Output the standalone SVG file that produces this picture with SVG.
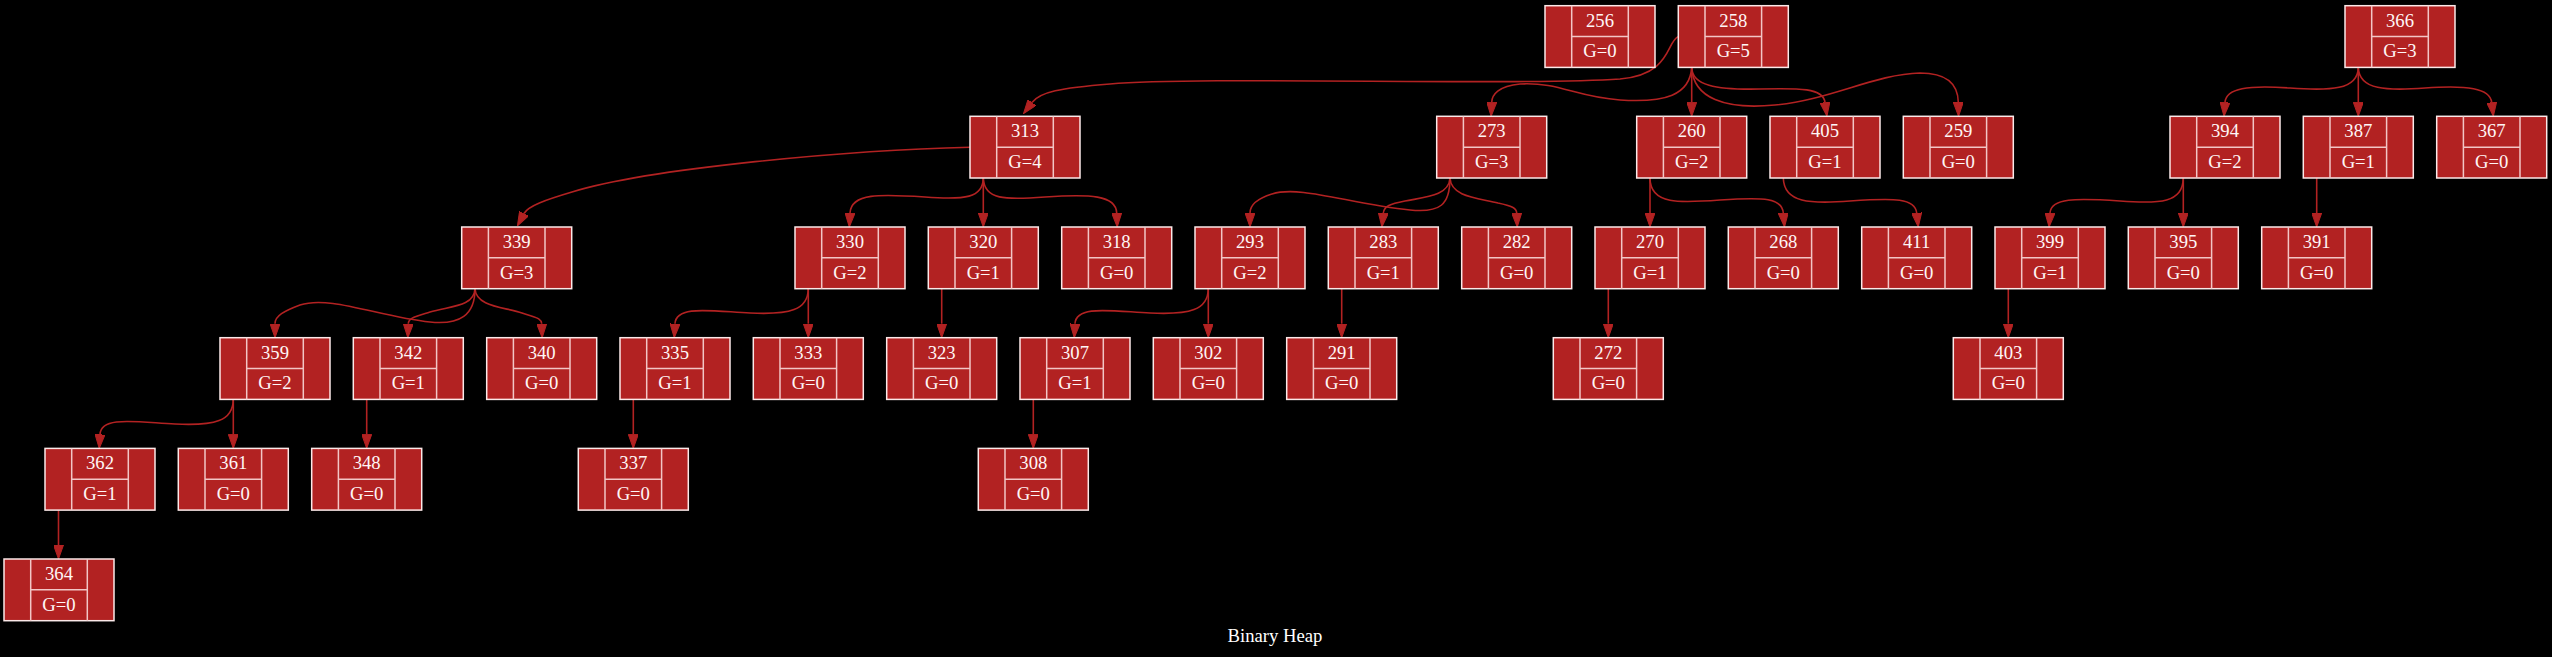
<svg xmlns="http://www.w3.org/2000/svg" width="2552" height="657" viewBox="0 0 2552 657">
<style>
.n rect{fill:#b22222;stroke:#fbe9e9;stroke-width:1.5}
.n path{fill:none;stroke:#f2c6c6;stroke-width:1.5}
.n text{font-family:"Liberation Serif",serif;font-size:18.67px;fill:#fff6f6;text-anchor:middle}
#edges path{fill:none;stroke:#b22222;stroke-width:1.6;marker-end:url(#ah)}
.t{font-family:"Liberation Serif",serif;font-size:18.67px;fill:#ffffff;text-anchor:middle}
</style>
<defs>
<marker id="ah" viewBox="0 0 14 10" refX="0" refY="5" markerWidth="14" markerHeight="10" markerUnits="userSpaceOnUse" orient="auto">
<path d="M0,0 L14,5 L0,10 z" fill="#b22222" stroke="#b22222" stroke-width="1"/>
</marker>
</defs>
<rect width="2552" height="657" fill="#000"/>
<g id="edges">
<path d="M1678.3,36.5 C1666,42 1672,74 1620,79 C1520,86 1200,76 1110,84 C1060,88 1040,92 1032,102.5"/>
<path d="M1691.7,67.4 C1690,95 1665,103 1620,100 C1575,97 1560,82 1520,84 C1498,86 1492,95 1491.7,102.3"/>
<path d="M1691.7,67.4 V102.3"/>
<path d="M1691.7,67.4 C1692,85 1715,90 1760,89 C1800,88 1823,88 1825,102.3"/>
<path d="M1691.7,67.4 C1693,98 1725,110 1775,105 C1830,100 1875,74 1920,73 C1948,73 1958,85 1958.3,102.3"/>
<path d="M2358.3,67.4 C2358,90 2330,91 2290,88 C2248,85 2226,88 2225,102.3"/>
<path d="M2358.3,67.4 V102.3"/>
<path d="M2358.3,67.4 C2359,90 2387,91 2425,88 C2467,85 2490,88 2491.7,102.3"/>
<path d="M970,147.2 C850,150 650,168 572,192 C545,200 528,206 524,213.5"/>
<path d="M983.3,178 C983,198 965,200 925,197 C880,194 851,193 850,213"/>
<path d="M983.3,178 V213"/>
<path d="M983.3,178 C984,200 1005,200 1045,197 C1090,194 1116,195 1116.7,213"/>
<path d="M1450,178 C1450,205 1440,213 1410,210 C1350,204 1300,185 1272,194 C1256,199 1250,205 1250,213"/>
<path d="M1450,178 C1449,196 1425,197 1405,201 C1390,204 1384,206 1383.3,213"/>
<path d="M1450,178 C1451,197 1478,198 1498,203 C1512,206 1516.5,208 1516.7,213"/>
<path d="M1650,178 V213"/>
<path d="M1650,178 C1650,205 1680,203 1720,200 C1765,197 1782,198 1783.3,213"/>
<path d="M1783.3,178 C1784,203 1810,204 1850,201 C1895,198 1915,198 1916.7,213"/>
<path d="M2183.3,178 C2183,203 2160,204 2120,201 C2075,198 2051,198 2050,213"/>
<path d="M2183.3,178 V213"/>
<path d="M2316.7,178 V213"/>
<path d="M475,288.7 C475,315 460,325 430,322 C380,317 330,295 300,305 C284,311 275,316 275,323.7"/>
<path d="M475,288.7 C474,307 450,306 430,312 C414,317 408.5,318 408.3,323.7"/>
<path d="M475,288.7 C476,307 505,307 522,313 C536,318 541.5,318 541.7,323.7"/>
<path d="M808.3,288.7 C808,310 790,315 750,313 C710,311 676,305 675,323.7"/>
<path d="M808.3,288.7 V323.7"/>
<path d="M941.7,288.7 V323.7"/>
<path d="M1208.3,288.7 C1208,310 1190,315 1150,313 C1110,311 1076,305 1075,323.7"/>
<path d="M1208.3,288.7 V323.7"/>
<path d="M1341.7,288.7 V323.7"/>
<path d="M1608.3,288.7 V323.7"/>
<path d="M2008.3,288.7 V323.7"/>
<path d="M233.3,399.4 C233,421 215,426 175,424 C135,422 101,416 100,434.4"/>
<path d="M233.3,399.4 V434.4"/>
<path d="M366.7,399.4 V434.4"/>
<path d="M633.3,399.4 V434.4"/>
<path d="M1033.3,399.4 V434.4"/>
<path d="M58.5,510.1 V545"/>
</g>
<g id="n256" class="n" transform="translate(1545,5.7)"><rect width="110" height="61.7"/><path d="M26.7,0V61.7M83.3,0V61.7M26.7,30.85H83.3"/><text x="55" y="21">256</text><text x="55" y="51.8">G=0</text></g>
<g id="n258" class="n" transform="translate(1678.3,5.7)"><rect width="110" height="61.7"/><path d="M26.7,0V61.7M83.3,0V61.7M26.7,30.85H83.3"/><text x="55" y="21">258</text><text x="55" y="51.8">G=5</text></g>
<g id="n366" class="n" transform="translate(2345,5.7)"><rect width="110" height="61.7"/><path d="M26.7,0V61.7M83.3,0V61.7M26.7,30.85H83.3"/><text x="55" y="21">366</text><text x="55" y="51.8">G=3</text></g>
<g id="n313" class="n" transform="translate(970,116.3)"><rect width="110" height="61.7"/><path d="M26.7,0V61.7M83.3,0V61.7M26.7,30.85H83.3"/><text x="55" y="21">313</text><text x="55" y="51.8">G=4</text></g>
<g id="n273" class="n" transform="translate(1436.7,116.3)"><rect width="110" height="61.7"/><path d="M26.7,0V61.7M83.3,0V61.7M26.7,30.85H83.3"/><text x="55" y="21">273</text><text x="55" y="51.8">G=3</text></g>
<g id="n260" class="n" transform="translate(1636.7,116.3)"><rect width="110" height="61.7"/><path d="M26.7,0V61.7M83.3,0V61.7M26.7,30.85H83.3"/><text x="55" y="21">260</text><text x="55" y="51.8">G=2</text></g>
<g id="n405" class="n" transform="translate(1770,116.3)"><rect width="110" height="61.7"/><path d="M26.7,0V61.7M83.3,0V61.7M26.7,30.85H83.3"/><text x="55" y="21">405</text><text x="55" y="51.8">G=1</text></g>
<g id="n259" class="n" transform="translate(1903.3,116.3)"><rect width="110" height="61.7"/><path d="M26.7,0V61.7M83.3,0V61.7M26.7,30.85H83.3"/><text x="55" y="21">259</text><text x="55" y="51.8">G=0</text></g>
<g id="n394" class="n" transform="translate(2170,116.3)"><rect width="110" height="61.7"/><path d="M26.7,0V61.7M83.3,0V61.7M26.7,30.85H83.3"/><text x="55" y="21">394</text><text x="55" y="51.8">G=2</text></g>
<g id="n387" class="n" transform="translate(2303.3,116.3)"><rect width="110" height="61.7"/><path d="M26.7,0V61.7M83.3,0V61.7M26.7,30.85H83.3"/><text x="55" y="21">387</text><text x="55" y="51.8">G=1</text></g>
<g id="n367" class="n" transform="translate(2436.7,116.3)"><rect width="110" height="61.7"/><path d="M26.7,0V61.7M83.3,0V61.7M26.7,30.85H83.3"/><text x="55" y="21">367</text><text x="55" y="51.8">G=0</text></g>
<g id="n339" class="n" transform="translate(461.7,227)"><rect width="110" height="61.7"/><path d="M26.7,0V61.7M83.3,0V61.7M26.7,30.85H83.3"/><text x="55" y="21">339</text><text x="55" y="51.8">G=3</text></g>
<g id="n330" class="n" transform="translate(795,227)"><rect width="110" height="61.7"/><path d="M26.7,0V61.7M83.3,0V61.7M26.7,30.85H83.3"/><text x="55" y="21">330</text><text x="55" y="51.8">G=2</text></g>
<g id="n320" class="n" transform="translate(928.3,227)"><rect width="110" height="61.7"/><path d="M26.7,0V61.7M83.3,0V61.7M26.7,30.85H83.3"/><text x="55" y="21">320</text><text x="55" y="51.8">G=1</text></g>
<g id="n318" class="n" transform="translate(1061.7,227)"><rect width="110" height="61.7"/><path d="M26.7,0V61.7M83.3,0V61.7M26.7,30.85H83.3"/><text x="55" y="21">318</text><text x="55" y="51.8">G=0</text></g>
<g id="n293" class="n" transform="translate(1195,227)"><rect width="110" height="61.7"/><path d="M26.7,0V61.7M83.3,0V61.7M26.7,30.85H83.3"/><text x="55" y="21">293</text><text x="55" y="51.8">G=2</text></g>
<g id="n283" class="n" transform="translate(1328.3,227)"><rect width="110" height="61.7"/><path d="M26.7,0V61.7M83.3,0V61.7M26.7,30.85H83.3"/><text x="55" y="21">283</text><text x="55" y="51.8">G=1</text></g>
<g id="n282" class="n" transform="translate(1461.7,227)"><rect width="110" height="61.7"/><path d="M26.7,0V61.7M83.3,0V61.7M26.7,30.85H83.3"/><text x="55" y="21">282</text><text x="55" y="51.8">G=0</text></g>
<g id="n270" class="n" transform="translate(1595,227)"><rect width="110" height="61.7"/><path d="M26.7,0V61.7M83.3,0V61.7M26.7,30.85H83.3"/><text x="55" y="21">270</text><text x="55" y="51.8">G=1</text></g>
<g id="n268" class="n" transform="translate(1728.3,227)"><rect width="110" height="61.7"/><path d="M26.7,0V61.7M83.3,0V61.7M26.7,30.85H83.3"/><text x="55" y="21">268</text><text x="55" y="51.8">G=0</text></g>
<g id="n411" class="n" transform="translate(1861.7,227)"><rect width="110" height="61.7"/><path d="M26.7,0V61.7M83.3,0V61.7M26.7,30.85H83.3"/><text x="55" y="21">411</text><text x="55" y="51.8">G=0</text></g>
<g id="n399" class="n" transform="translate(1995,227)"><rect width="110" height="61.7"/><path d="M26.7,0V61.7M83.3,0V61.7M26.7,30.85H83.3"/><text x="55" y="21">399</text><text x="55" y="51.8">G=1</text></g>
<g id="n395" class="n" transform="translate(2128.3,227)"><rect width="110" height="61.7"/><path d="M26.7,0V61.7M83.3,0V61.7M26.7,30.85H83.3"/><text x="55" y="21">395</text><text x="55" y="51.8">G=0</text></g>
<g id="n391" class="n" transform="translate(2261.7,227)"><rect width="110" height="61.7"/><path d="M26.7,0V61.7M83.3,0V61.7M26.7,30.85H83.3"/><text x="55" y="21">391</text><text x="55" y="51.8">G=0</text></g>
<g id="n359" class="n" transform="translate(220,337.7)"><rect width="110" height="61.7"/><path d="M26.7,0V61.7M83.3,0V61.7M26.7,30.85H83.3"/><text x="55" y="21">359</text><text x="55" y="51.8">G=2</text></g>
<g id="n342" class="n" transform="translate(353.3,337.7)"><rect width="110" height="61.7"/><path d="M26.7,0V61.7M83.3,0V61.7M26.7,30.85H83.3"/><text x="55" y="21">342</text><text x="55" y="51.8">G=1</text></g>
<g id="n340" class="n" transform="translate(486.7,337.7)"><rect width="110" height="61.7"/><path d="M26.7,0V61.7M83.3,0V61.7M26.7,30.85H83.3"/><text x="55" y="21">340</text><text x="55" y="51.8">G=0</text></g>
<g id="n335" class="n" transform="translate(620,337.7)"><rect width="110" height="61.7"/><path d="M26.7,0V61.7M83.3,0V61.7M26.7,30.85H83.3"/><text x="55" y="21">335</text><text x="55" y="51.8">G=1</text></g>
<g id="n333" class="n" transform="translate(753.3,337.7)"><rect width="110" height="61.7"/><path d="M26.7,0V61.7M83.3,0V61.7M26.7,30.85H83.3"/><text x="55" y="21">333</text><text x="55" y="51.8">G=0</text></g>
<g id="n323" class="n" transform="translate(886.7,337.7)"><rect width="110" height="61.7"/><path d="M26.7,0V61.7M83.3,0V61.7M26.7,30.85H83.3"/><text x="55" y="21">323</text><text x="55" y="51.8">G=0</text></g>
<g id="n307" class="n" transform="translate(1020,337.7)"><rect width="110" height="61.7"/><path d="M26.7,0V61.7M83.3,0V61.7M26.7,30.85H83.3"/><text x="55" y="21">307</text><text x="55" y="51.8">G=1</text></g>
<g id="n302" class="n" transform="translate(1153.3,337.7)"><rect width="110" height="61.7"/><path d="M26.7,0V61.7M83.3,0V61.7M26.7,30.85H83.3"/><text x="55" y="21">302</text><text x="55" y="51.8">G=0</text></g>
<g id="n291" class="n" transform="translate(1286.7,337.7)"><rect width="110" height="61.7"/><path d="M26.7,0V61.7M83.3,0V61.7M26.7,30.85H83.3"/><text x="55" y="21">291</text><text x="55" y="51.8">G=0</text></g>
<g id="n272" class="n" transform="translate(1553.3,337.7)"><rect width="110" height="61.7"/><path d="M26.7,0V61.7M83.3,0V61.7M26.7,30.85H83.3"/><text x="55" y="21">272</text><text x="55" y="51.8">G=0</text></g>
<g id="n403" class="n" transform="translate(1953.3,337.7)"><rect width="110" height="61.7"/><path d="M26.7,0V61.7M83.3,0V61.7M26.7,30.85H83.3"/><text x="55" y="21">403</text><text x="55" y="51.8">G=0</text></g>
<g id="n362" class="n" transform="translate(45,448.4)"><rect width="110" height="61.7"/><path d="M26.7,0V61.7M83.3,0V61.7M26.7,30.85H83.3"/><text x="55" y="21">362</text><text x="55" y="51.8">G=1</text></g>
<g id="n361" class="n" transform="translate(178.3,448.4)"><rect width="110" height="61.7"/><path d="M26.7,0V61.7M83.3,0V61.7M26.7,30.85H83.3"/><text x="55" y="21">361</text><text x="55" y="51.8">G=0</text></g>
<g id="n348" class="n" transform="translate(311.7,448.4)"><rect width="110" height="61.7"/><path d="M26.7,0V61.7M83.3,0V61.7M26.7,30.85H83.3"/><text x="55" y="21">348</text><text x="55" y="51.8">G=0</text></g>
<g id="n337" class="n" transform="translate(578.3,448.4)"><rect width="110" height="61.7"/><path d="M26.7,0V61.7M83.3,0V61.7M26.7,30.85H83.3"/><text x="55" y="21">337</text><text x="55" y="51.8">G=0</text></g>
<g id="n308" class="n" transform="translate(978.3,448.4)"><rect width="110" height="61.7"/><path d="M26.7,0V61.7M83.3,0V61.7M26.7,30.85H83.3"/><text x="55" y="21">308</text><text x="55" y="51.8">G=0</text></g>
<g id="n364" class="n" transform="translate(4,559)"><rect width="110" height="61.7"/><path d="M26.7,0V61.7M83.3,0V61.7M26.7,30.85H83.3"/><text x="55" y="21">364</text><text x="55" y="51.8">G=0</text></g>
<text class="t" x="1275" y="642">Binary Heap</text>
</svg>
